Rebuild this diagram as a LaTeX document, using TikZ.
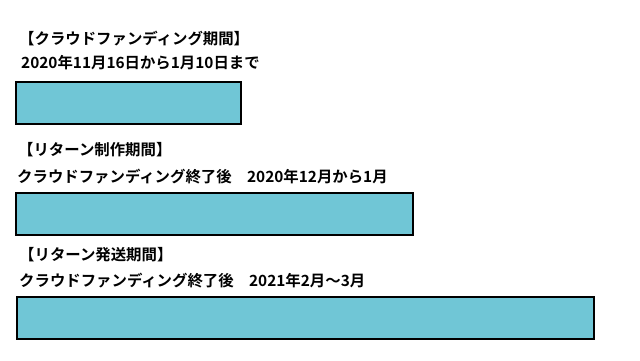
\documentclass[tikz,border=0pt]{standalone}
\usepackage{fontspec}
\newfontfamily\jpfont{Noto Sans CJK JP}[BoldFont={* Bold}]
\usetikzlibrary{positioning}
\definecolor{barcyan}{HTML}{70C6D6}

\begin{document}
\begin{tikzpicture}[x=1pt, y=-1pt]
\tikzset{
    every node/.style = {inner sep=0pt, anchor=west, font=\jpfont\bfseries\fontsize{15.4pt}{18pt}\selectfont},
    bar/.style = {draw, rectangle, fill=barcyan, line width=1.5pt, anchor=north west, minimum height=42pt}
}
\useasboundingbox (0,0) rectangle (640,360);

% -------------------------------------------------------
\node (title1) at (19,39) {【クラウドファンディング期間】};
\node (date1) at (21,63) {2020年11月16日から1月10日まで};
\node[bar, minimum width=225pt] (bar1) at (15,81) {};

% -------------------------------------------------------
\node (title2) at (18,150) {【リターン制作期間】};
\node (date2) at (17,177) {クラウドファンディング終了後　2020年12月から1月};
\node[bar, minimum width=397pt] (bar2) at (15,192) {};

% -------------------------------------------------------
\node (title3) at (19,255) {【リターン発送期間】};
\node (date3) at (19,281) {クラウドファンディング終了後　2021年2月～3月};
\node[bar, minimum width=577pt] (bar3) at (16,296) {};
\end{tikzpicture}
\end{document}
